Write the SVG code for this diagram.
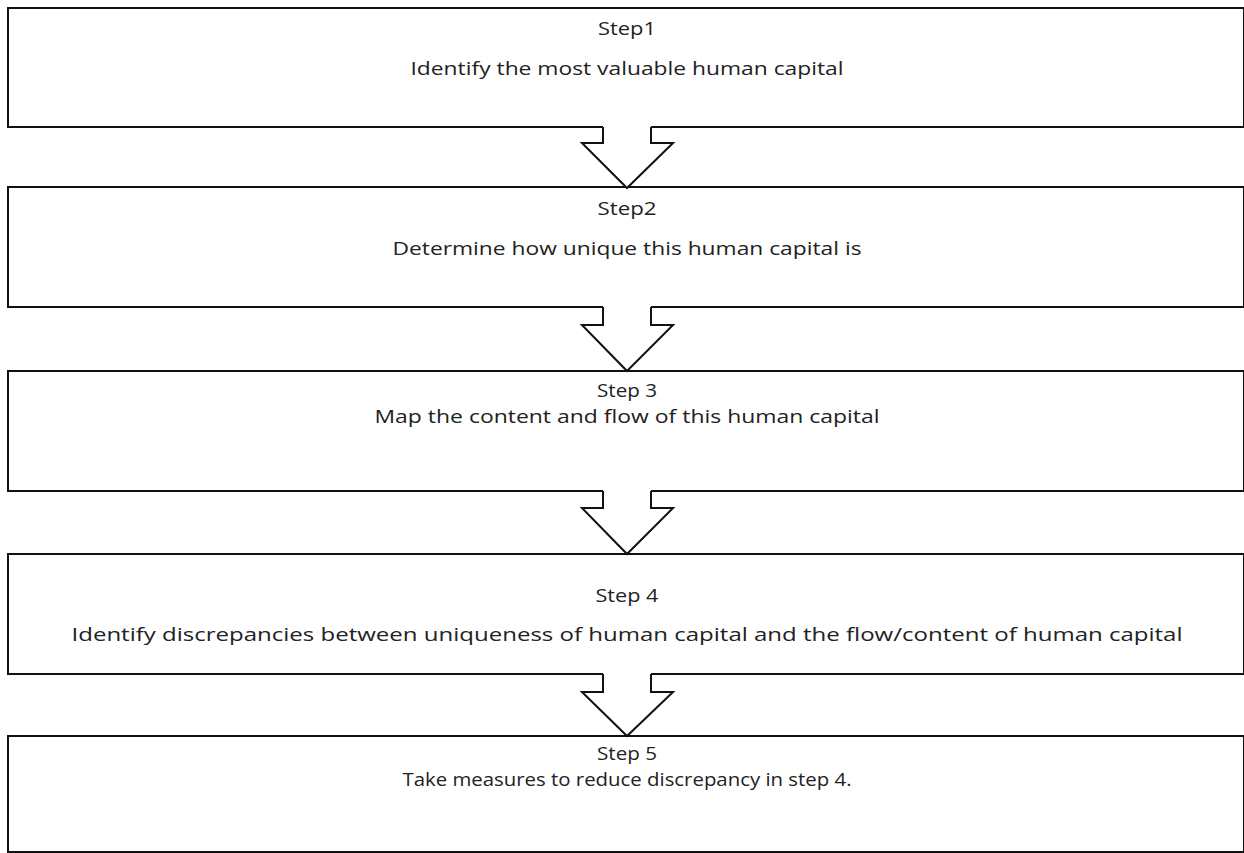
<svg xmlns="http://www.w3.org/2000/svg" width="1244" height="853" viewBox="0 0 1244 853">
<style>
.box{fill:#fff;stroke:#111;stroke-width:2}
.af{fill:#fff;stroke:none}
.al{fill:none;stroke:#111;stroke-width:2;stroke-linejoin:miter}
text{font-family:"Open Sans","Liberation Sans",sans-serif;font-size:19px;fill:#222;text-anchor:middle}
</style>
<rect width="1244" height="853" fill="#fff"/>
<g id="step1">
<rect class="box" x="8" y="8" width="1236" height="119"/>
<text x="627" y="35" textLength="58" lengthAdjust="spacingAndGlyphs">Step1</text>
<text x="627" y="75" textLength="433" lengthAdjust="spacingAndGlyphs">Identify the most valuable human capital</text>
</g>
<g id="step2">
<rect class="box" x="8" y="187" width="1236" height="120"/>
<text x="627" y="215" textLength="59" lengthAdjust="spacingAndGlyphs">Step2</text>
<text x="627" y="255" textLength="469" lengthAdjust="spacingAndGlyphs">Determine how unique this human capital is</text>
</g>
<g id="step3">
<rect class="box" x="8" y="371" width="1236" height="120"/>
<text x="627" y="397" textLength="60" lengthAdjust="spacingAndGlyphs">Step 3</text>
<text x="627" y="423" textLength="505" lengthAdjust="spacingAndGlyphs">Map the content and flow of this human capital</text>
</g>
<g id="step4">
<rect class="box" x="8" y="554" width="1236" height="120"/>
<text x="627" y="602" textLength="63" lengthAdjust="spacingAndGlyphs">Step 4</text>
<text x="627" y="641" textLength="1111" lengthAdjust="spacingAndGlyphs">Identify discrepancies between uniqueness of human capital and the flow/content of human capital</text>
</g>
<g id="step5">
<rect class="box" x="8" y="736" width="1236" height="116"/>
<text x="627" y="760" textLength="60" lengthAdjust="spacingAndGlyphs">Step 5</text>
<text x="627" y="786" textLength="449" lengthAdjust="spacingAndGlyphs">Take measures to reduce discrepancy in step 4.</text>
</g>
<g id="connectors">
<polygon class="af" points="603,126 651,126 651,143 673,143 627,188 582,143 603,143"/>
<polyline class="al" points="603,127 603,143 582,143 627,188 673,143 651,143 651,127"/>
<polygon class="af" points="603,306 651,306 651,325 673,325 627,371 582,325 603,325"/>
<polyline class="al" points="603,307 603,325 582,325 627,371 673,325 651,325 651,307"/>
<polygon class="af" points="603,490 651,490 651,508 673,508 627,554 582,508 603,508"/>
<polyline class="al" points="603,491 603,508 582,508 627,554 673,508 651,508 651,491"/>
<polygon class="af" points="603,673 651,673 651,692 673,692 627,736 582,692 603,692"/>
<polyline class="al" points="603,674 603,692 582,692 627,736 673,692 651,692 651,674"/>
</g>
</svg>
